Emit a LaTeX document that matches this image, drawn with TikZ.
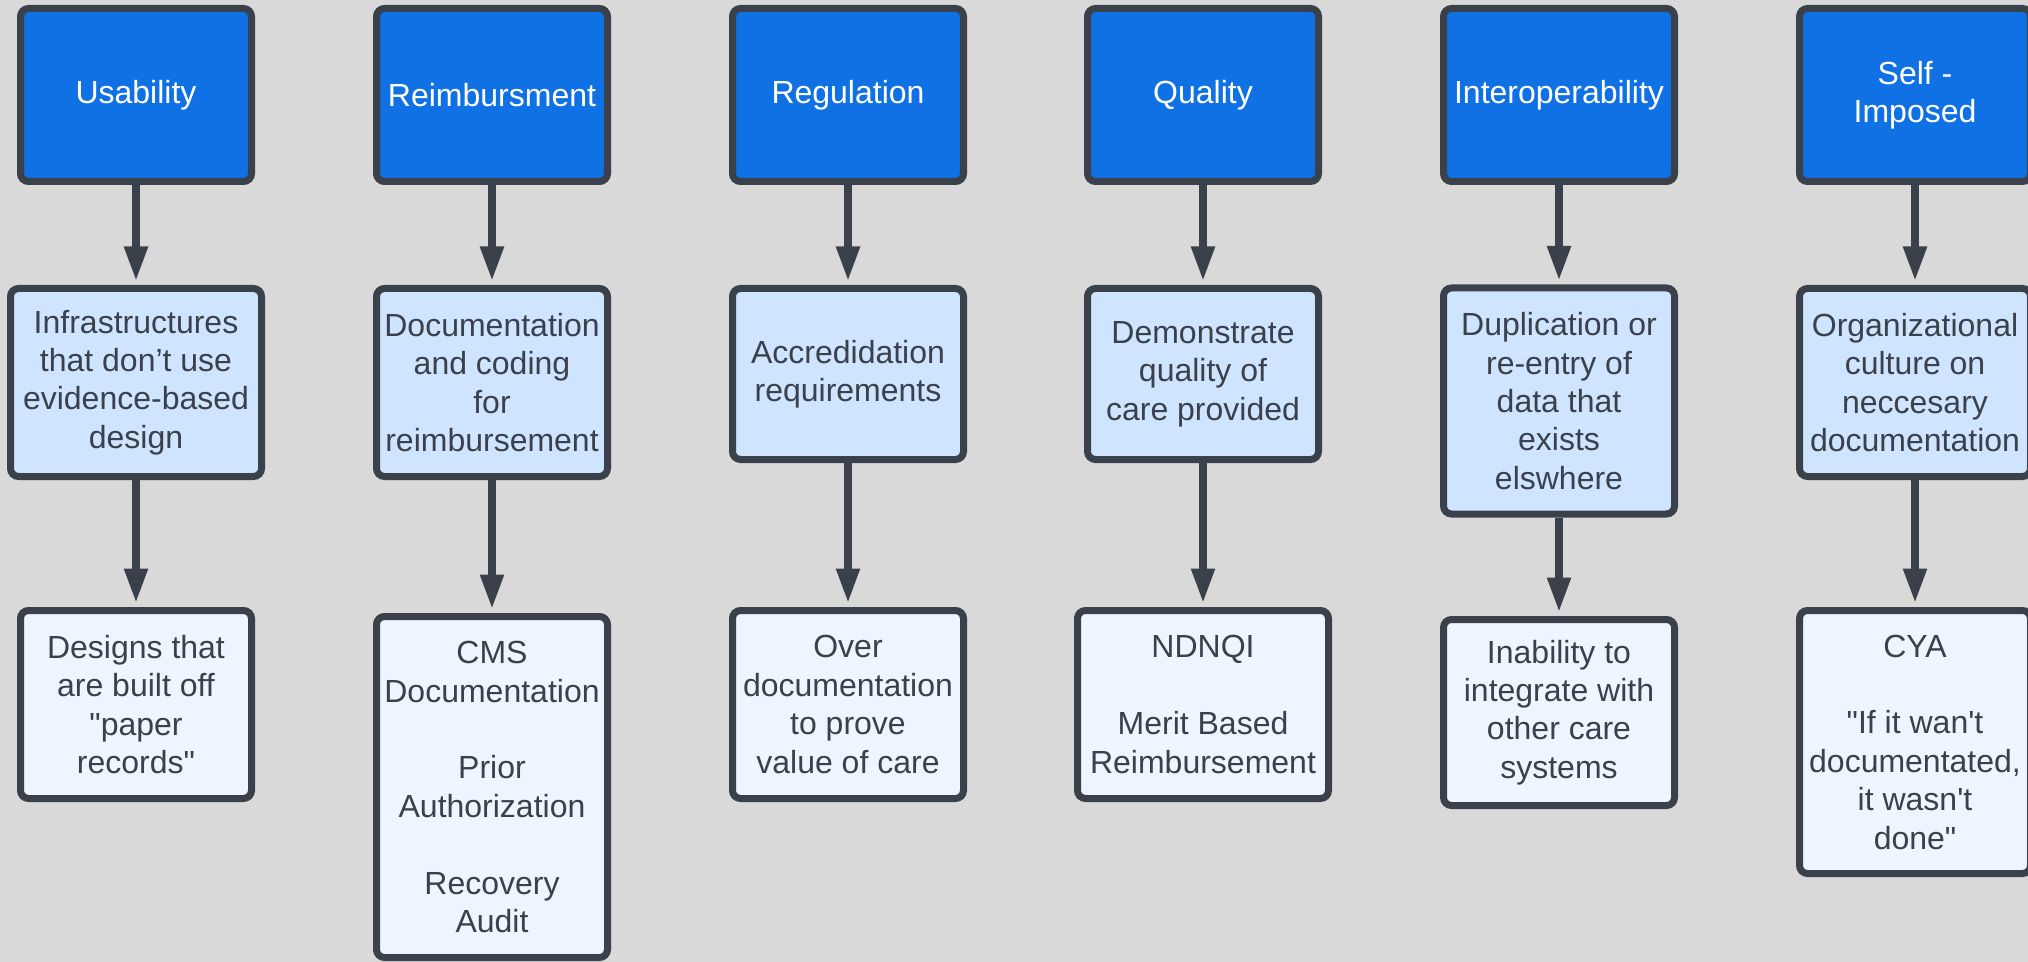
\documentclass[tikz,border=0pt]{standalone}
\usepackage{fontspec}
\setmainfont{Liberation Sans}[Ligatures=TeXOff]
\usepackage{tikz}
\usetikzlibrary{shapes,arrows.meta,positioning}
\usepackage{xcolor}
\definecolor{bggray}{HTML}{D9D9D9}
\definecolor{edge}{HTML}{3A414A}
\definecolor{ink}{HTML}{3A414A}
\definecolor{headblue}{HTML}{1071E5}
\definecolor{midblue}{HTML}{CFE4FF}
\definecolor{lowblue}{HTML}{EDF5FF}

\begin{document}
\begin{tikzpicture}[x=0.5pt, y=-0.5pt,
  box/.style={rectangle, draw=edge, line width=3.5pt, fill=#1, minimum width=115.5pt, minimum height=94pt, align=center, inner sep=0pt, rounded corners=4pt, font=\fontsize{16}{19.2}\selectfont, text=ink},
  head/.style={box=headblue, minimum height=86.5pt, text=white},
  arr/.style={-{Triangle[length=17.5pt, width=11pt]}, line width=4pt, edge, shorten >=1.75pt}
]
  \path[use as bounding box, fill=bggray] (0,0) rectangle (2028,962);

  \node[head] (use) at (136,95) {Usability};
  \node[head] (reim) at (492,95) {Reimbursment};
  \node[head] (reg) at (848,95) {Regulation};
  \node[head] (qual) at (1203,95) {Quality};
  \node[head] (intop) at (1559,95) {Interoperability};
  \node[head] (self) at (1915,95) {Self -\\Imposed};

  \node[box=midblue, minimum width=125.5pt] (infra) at (136,382.5) {Infrastructures\\that don’t use\\evidence-based\\design};
  \node[box=midblue] (doc) at (492,382.5) {Documentation\\and coding\\for\\reimbursement};
  \node[box=midblue, minimum height=85.5pt] (accr) at (848,374) {Accredidation\\requirements};
  \node[box=midblue, minimum height=85.5pt] (demo) at (1203,374) {Demonstrate\\quality of\\care provided};
  \node[box=midblue, minimum height=113pt] (dup) at (1559,401) {Duplication or\\re-entry of\\data that\\exists\\elswhere};
  \node[box=midblue] (org) at (1915,382.5) {Organizational\\culture on\\neccesary\\documentation};

  \node[box=lowblue] (paper) at (136,704.5) {Designs that\\are built off\\"paper\\records"};
  \node[box=lowblue, minimum height=170.5pt] (cms) at (492,787) {CMS\\Documentation\\[19.2pt]Prior\\Authorization\\[19.2pt]Recovery\\Audit};
  \node[box=lowblue] (over) at (848,704.5) {Over\\documentation\\to prove\\value of care};
  \node[box=lowblue, minimum width=125.5pt] (ndnqi) at (1203,704.5) {NDNQI\\[19.2pt]Merit Based\\Reimbursement};
  \node[box=lowblue, minimum height=93pt] (integ) at (1559,712.5) {Inability to\\integrate with\\other care\\systems};
  \node[box=lowblue, minimum height=131.5pt] (cya) at (1915,742) {CYA\\[19.2pt]"If it wan't\\documentated,\\it wasn't\\done"};

  \draw[arr] (use) -- (infra);
  \draw[arr] (reim) -- (doc);
  \draw[arr] (reg) -- (accr);
  \draw[arr] (qual) -- (demo);
  \draw[arr] (intop) -- (dup);
  \draw[arr] (self) -- (org);

  \draw[arr] (infra) -- (paper);
  \draw[arr] (doc) -- (cms);
  \draw[arr] (accr) -- (over);
  \draw[arr] (demo) -- (ndnqi);
  \draw[arr] (dup) -- (integ);
  \draw[arr] (org) -- (cya);
\end{tikzpicture}
\end{document}
